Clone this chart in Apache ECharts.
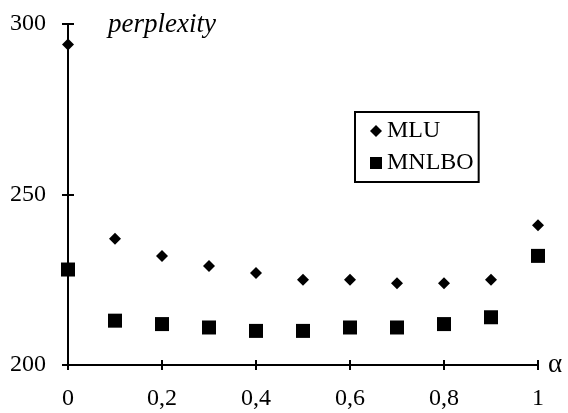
<!DOCTYPE html>
<html>
<head>
<meta charset="utf-8">
<script src="https://cdn.jsdelivr.net/npm/echarts@6/dist/echarts.min.js"></script>
<style>
  html, body { margin: 0; padding: 0; background: #fff; }
  #main { width: 568px; height: 413px; }
</style>
</head>
<body>
<div id="main"></div>
<script>
// alpha values and perplexity
var alphas = [0, 0.1, 0.2, 0.3, 0.4, 0.5, 0.6, 0.7, 0.8, 0.9, 1];
var mlu = [294, 237, 232, 229, 227, 225, 225, 224, 224, 225, 241];
var mnlbo = [228, 213, 212, 211, 210, 210, 211, 211, 212, 214, 232];
var seriesNames = ['MLU', 'MNLBO'];

var font = 'Liberation Serif';

function pairs(ys) {
  return alphas.map(function (a, i) { return [a, ys[i]]; });
}

var chart = echarts.init(document.getElementById('main'));

var tickStyle = { color: '#000', width: 2 };
var xBase = { type: 'value', min: 0, max: 1, interval: 0.2, splitLine: { show: false } };
var yBase = { type: 'value', min: 200, max: 300, interval: 50, splitLine: { show: false } };

// the extra axes (top x, right y) are pulled onto zero of the other axis,
// their outward ticks give the second half of the crossing ticks
var option = {
  backgroundColor: '#fff',
  animation: false,
  title: {
    text: 'perplexity',
    left: 103, top: 6,
    textStyle: { fontFamily: font, fontStyle: 'italic', fontWeight: 'normal', fontSize: 27, color: '#000' }
  },
  grid: { left: 68, right: 30, top: 24, bottom: 48, outerBoundsMode: 'none' },
  legend: {
    orient: 'vertical',
    left: 355, top: 112,
    padding: [7, 5, 7, 15],
    itemGap: 8,
    itemWidth: 12, itemHeight: 12,
    borderColor: '#000', borderWidth: 2,
    textStyle: { fontFamily: font, fontSize: 24, color: '#000' },
    data: [
      { name: seriesNames[0], icon: 'diamond' },
      { name: seriesNames[1], icon: 'rect' }
    ]
  },
  xAxis: [
    Object.assign({}, xBase, {
      position: 'bottom',
      name: 'α',
      nameLocation: 'end',
      nameGap: 10,
      nameTextStyle: { fontFamily: font, fontSize: 27, color: '#000', verticalAlign: 'middle', padding: [0, 0, 6, 0] },
      axisLine: { onZero: false, lineStyle: { color: '#000', width: 2 } },
      axisTick: { show: true, length: 5, lineStyle: tickStyle },
      axisLabel: {
        margin: 22, fontFamily: font, fontSize: 24, color: '#000',
        formatter: function (v) {
          if (v === 0 || v === 1) return String(v);
          return v.toFixed(1).replace('.', ',');
        }
      }
    }),
    Object.assign({}, xBase, {
      position: 'top',
      axisLine: { show: true, onZero: true, onZeroAxisIndex: 2, lineStyle: { color: 'rgba(0,0,0,0)' } },
      axisTick: { show: true, length: 5, lineStyle: tickStyle },
      axisLabel: { show: false }
    })
  ],
  yAxis: [
    Object.assign({}, yBase, {
      position: 'left',
      axisLine: { show: true, onZero: true, onZeroAxisIndex: 0, lineStyle: { color: '#000', width: 2 } },
      axisTick: { show: true, length: 6, lineStyle: tickStyle },
      axisLabel: { margin: 22, fontFamily: font, fontSize: 24, color: '#000' }
    }),
    Object.assign({}, yBase, {
      position: 'right',
      axisLine: { show: true, onZero: true, onZeroAxisIndex: 1, lineStyle: { color: 'rgba(0,0,0,0)' } },
      axisTick: { show: true, length: 6, lineStyle: tickStyle },
      axisLabel: { show: false }
    }),
    {
      // helper scale whose zero sits on the bottom edge
      type: 'value', min: 0, max: 100, show: false,
      axisLine: { onZero: false }
    }
  ],
  series: [
    {
      name: seriesNames[0],
      type: 'scatter',
      symbol: 'diamond',
      symbolSize: 12,
      itemStyle: { color: '#000', opacity: 1 },
      data: pairs(mlu),
      z: 5
    },
    {
      name: seriesNames[1],
      type: 'scatter',
      symbol: 'rect',
      symbolSize: 14,
      itemStyle: { color: '#000', opacity: 1 },
      data: pairs(mnlbo),
      z: 5
    }
  ]
};

chart.setOption(option);
</script>
</body>
</html>
